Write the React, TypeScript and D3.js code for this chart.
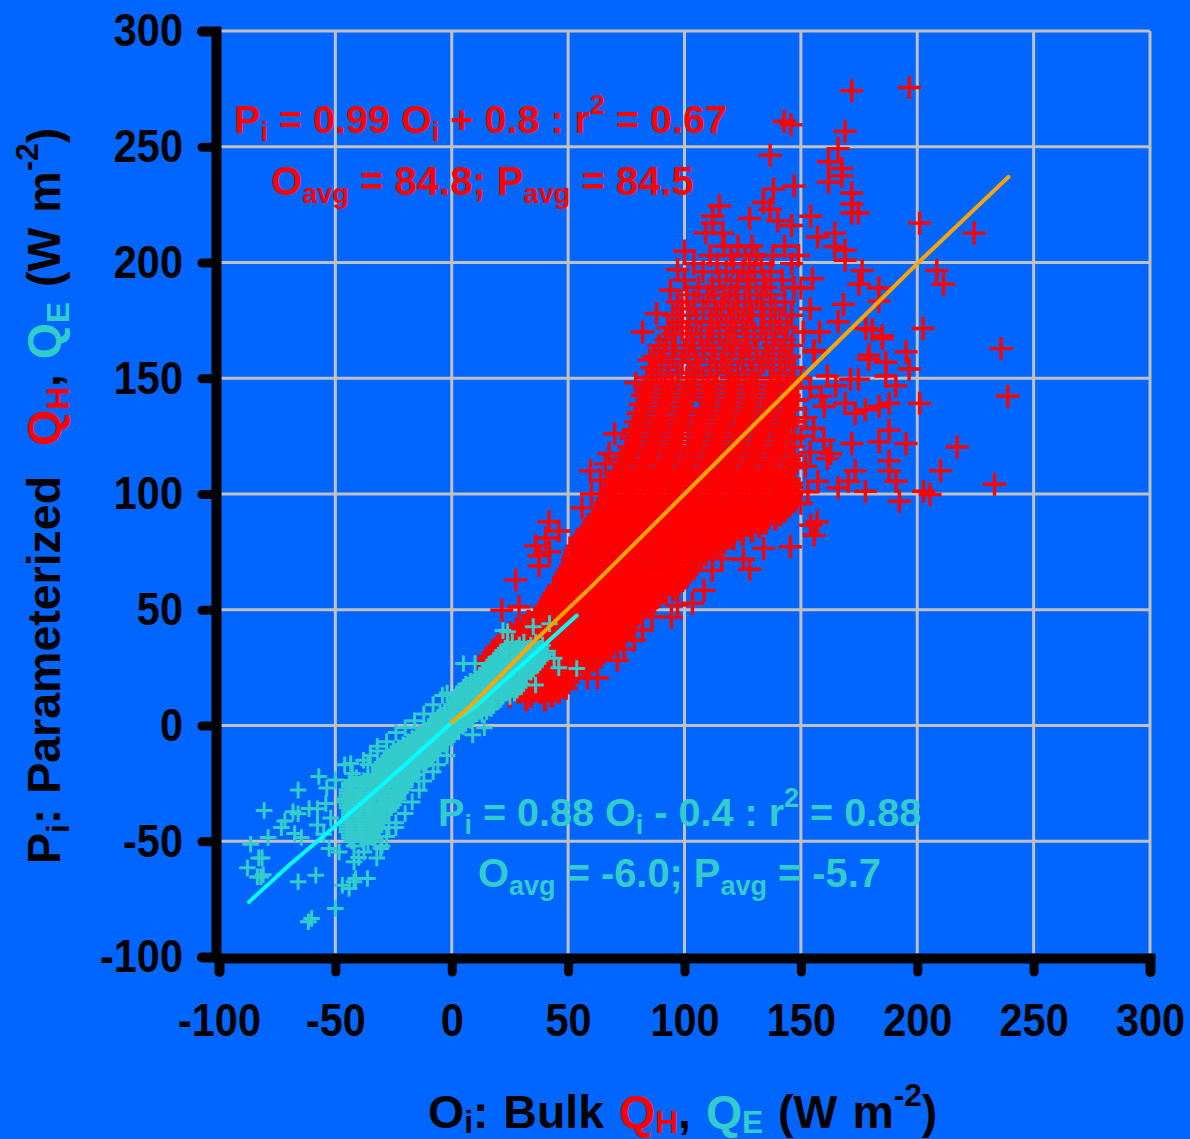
import React, { useEffect, useRef } from "react";
import * as d3 from "d3";

const xTicks = [-100, -50, 0, 50, 100, 150, 200, 250, 300];
const yTicks = [-100, -50, 0, 50, 100, 150, 200, 250, 300];

// QH: the solid mass cannot be resolved point by point, so it is read off as rows: [y, x, x, ...]
const qhRowsLow = [
  [11, 32, 40], [12.7, 25, 34, 43], [14.4, 20, 29, 38, 46], [16.1, 16, 25, 34, 42, 49], [17.8, 15, 24, 33, 41, 48],
  [19.5, 14, 22, 31, 40, 48], [21.2, 15, 24, 33, 42, 50], [22.9, 15, 23, 32, 41, 49, 54], [24.6, 16, 25, 34, 43, 51, 57],
  [26.3, 15, 24, 33, 42, 50, 59], [28, 16, 25, 34, 43, 52, 61], [29.7, 16, 24, 33, 42, 51, 60, 64], [31.4, 18, 27, 36, 45, 54, 63, 65],
  [33.1, 19, 28, 37, 46, 55, 64, 67], [34.8, 21, 29, 38, 47, 56, 65, 69], [36.5, 22, 31, 40, 49, 58, 67, 71],
  [38.2, 24, 33, 42, 51, 60, 69, 73], [39.9, 25, 34, 43, 52, 61, 70, 74], [41.6, 28, 37, 46, 55, 64, 73, 75],
  [43.3, 31, 39, 48, 57, 66, 75], [45, 33, 42, 51, 60, 69, 77], [46.7, 36, 45, 54, 63, 72, 78], [48.4, 38, 47, 56, 65, 74, 80],
  [50.1, 40, 49, 58, 67, 76, 82], [51.8, 41, 50, 59, 68, 77, 85], [53.5, 42, 51, 60, 69, 78, 87], [55.2, 43, 52, 61, 70, 79, 88],
  [56.9, 44, 53, 62, 71, 80, 89, 92], [58.6, 45, 54, 63, 72, 81, 90, 95], [60.3, 46, 55, 64, 73, 82, 91, 97],
  [62, 48, 57, 66, 75, 84, 93, 98], [63.7, 48, 57, 66, 75, 84, 93, 100], [65.4, 49, 58, 67, 76, 85, 94, 101],
  [67.1, 50, 59, 68, 77, 86, 95, 102], [68.8, 51, 60, 69, 78, 87, 96, 103], [70.5, 52, 61, 70, 79, 88, 97, 105],
  [72.2, 52, 61, 70, 79, 88, 97, 106], [73.9, 53, 62, 71, 80, 89, 98, 107, 109], [75.6, 53, 62, 71, 80, 89, 98, 107, 112],
  [77.3, 54, 63, 72, 81, 90, 99, 108, 115], [79, 55, 64, 73, 82, 91, 100, 109, 117], [80.7, 55, 64, 73, 82, 91, 100, 109, 118, 121],
  [82.4, 57, 66, 75, 84, 93, 102, 111, 120, 125], [84.1, 58, 67, 76, 85, 94, 103, 112, 121, 129],
  [85.8, 60, 69, 78, 87, 96, 105, 114, 123, 132], [87.5, 61, 70, 79, 88, 97, 106, 115, 124, 133, 135],
  [89.2, 62, 71, 80, 89, 98, 107, 116, 125, 134, 139], [90.9, 63, 72, 81, 90, 99, 108, 117, 126, 135, 141],
  [92.6, 65, 74, 83, 92, 101, 110, 119, 128, 137, 143], [94.3, 66, 75, 84, 93, 102, 111, 120, 129, 138, 144],
  [96, 66, 75, 84, 93, 102, 111, 120, 129, 138, 145], [97.7, 67, 76, 85, 94, 103, 112, 121, 130, 139, 145],
  [99.4, 68, 77, 86, 95, 104, 113, 122, 131, 140, 146], [101.1, 68, 77, 86, 95, 104, 113, 122, 131, 140, 145],
  [102.8, 69, 78, 87, 96, 105, 114, 123, 132, 141, 146], [104.5, 70, 79, 88, 97, 106, 115, 124, 133, 142, 146],
  [106.2, 70, 79, 88, 97, 106, 115, 124, 133, 142, 145], [107.9, 71, 80, 89, 98, 107, 116, 125, 134, 143],
  [109.6, 72, 81, 90, 99, 108, 117, 126, 135, 144],
];

const qhRowsMid = [
  [111.4, 74, 83, 92, 101, 110, 119, 128, 137, 146], [113.2, 76, 85, 94, 103, 112, 121, 130, 139, 147],
  [115, 73, 82, 91, 100, 109, 118, 127, 136, 145], [116.8, 75, 84, 93, 102, 111, 120, 129, 138, 146],
  [118.6, 78, 87, 96, 105, 114, 123, 132, 141], [120.4, 76, 85, 94, 103, 112, 121, 130, 139, 147],
  [122.2, 79, 88, 97, 106, 115, 124, 133, 142], [124, 77, 86, 95, 104, 113, 122, 131, 140, 147],
  [125.8, 80, 89, 98, 107, 116, 125, 134, 143], [127.6, 78, 87, 96, 105, 114, 123, 132, 141],
  [129.4, 81, 90, 99, 108, 117, 126, 135, 144], [131.2, 79, 88, 97, 106, 115, 124, 133, 142, 147],
  [133, 82, 91, 100, 109, 118, 127, 136, 145], [134.9, 80, 89, 98, 107, 116, 125, 134, 143],
  [136.8, 83, 92, 101, 110, 119, 128, 137, 146], [138.7, 81, 90, 99, 112, 121, 130, 139, 144],
  [140.6, 84, 93, 102, 111, 120, 129, 138, 147], [142.5, 82, 91, 100, 109, 118, 127, 136, 145],
  [144.4, 85, 94, 103, 112, 121, 130, 139, 143], [146.3, 83, 92, 101, 110, 119, 128, 137, 146],
  [148.2, 86, 95, 104, 113, 122, 131, 140, 144],
];

const qhRowsHigh = [
  [150.2, 84, 90, 101, 108, 120, 126, 137, 146], [152.4, 88, 97, 103, 114, 123, 129, 141], [154.6, 86, 93, 106, 111, 118, 132, 138, 147],
  [157, 90, 99, 105, 116, 125, 134, 143], [159.4, 87, 95, 102, 113, 120, 128, 136, 145], [161.8, 91, 100, 108, 117, 124, 131, 141],
  [164.2, 89, 96, 104, 112, 121, 127, 138, 146], [166.7, 92, 103, 110, 119, 126, 135, 143], [169.2, 95, 101, 107, 115, 122, 130, 139],
  [171.8, 93, 99, 112, 118, 127, 133, 144], [174.4, 97, 105, 111, 120, 125, 137, 141], [177.2, 95, 102, 114, 121, 129, 134, 146],
  [180, 99, 108, 116, 123, 128, 139], [183, 97, 104, 113, 119, 126, 133, 143], [186, 101, 110, 117, 122, 131, 137],
  [189.2, 106, 112, 120, 128, 135, 147], [192.4, 100, 115, 123, 127, 134, 142], [196, 108, 118, 125, 130, 137],
  [199.5, 104, 114, 121, 128, 133, 146], [203, 111, 120, 126, 131, 138, 149], [207, 117, 123, 129, 143],
];

const qhOutliers = [
  [171.9, 274.2], [196.6, 275.6], [142.8, 261], [145.7, 259.5], [169, 256.7], [136.8, 246.3], [166, 249.2], [161.9, 243.5],
  [167.6, 240.6], [167.6, 237.4], [161.9, 234.7], [171.9, 230], [138.2, 231.7], [147.1, 233], [171.9, 225.3], [171.9, 221.4],
  [174.7, 221.4], [201, 217], [224.4, 212.7], [154.2, 220], [115, 224.5], [112.1, 220], [112.1, 217], [109, 212.8], [116.4, 212.7],
  [133.9, 225.9], [136.8, 223], [128, 219], [140, 218], [146, 216], [164.6, 212.7], [157.2, 211], [164.6, 206.8], [169, 205.3], [169, 201],
  [176.3, 196.5], [174.9, 190.6], [183.5, 189], [183.5, 183.3], [168.3, 181.9], [166, 174.4], [208.4, 196.5], [211.3, 190.6],
  [202.5, 171.5], [177.9, 171.5], [180.7, 170.8], [185, 168.3], [195.2, 161.4], [236, 162.8], [179.3, 160], [155.7, 162],
  [238.9, 142.2], [201, 139.2], [217.1, 120.3], [210, 110], [233.2, 104.2], [202.7, 101.2], [205.5, 99.8], [192.3, 96.9],
  [177.7, 101.2], [195.2, 121.8], [187.9, 127.6], [183.6, 122.5], [171.9, 121.8], [187.9, 114.3], [187.9, 110], [190.9, 105.5],
  [173.3, 110], [170.4, 105.5], [166, 102.7], [157.3, 105.5], [187.9, 139.2], [183.6, 137.8], [177.7, 136.4], [173.3, 134.9],
  [169, 139.2], [160.1, 137.8], [158.7, 142.2], [148.5, 140.6], [196.5, 154], [186.5, 156.9], [179, 158.2], [185, 167.2],
  [174.7, 149.6], [171.3, 149.6], [190.8, 146.7], [186.5, 151], [161.4, 151], [165, 146.7], [155.7, 161.4], [155.7, 82.2],
  [157, 88], [154.2, 86.5], [145.5, 77.2], [134, 76.5], [128, 67.5], [125.3, 71.8], [161.4, 115.3], [162.8, 117.5], [159.8, 123.2],
  [155.5, 128.3], [152, 112], [154, 118], [150, 96], [153, 101], [150, 125], [152, 133], [150, 150], [154, 146], [151, 170], [154, 180],
  [150, 189], [155, 193], [158, 170], [59.6, 110], [27.5, 62.9], [41.8, 88], [40.4, 81], [36, 77.6], [37.5, 73.3], [37.5, 69],
  [42, 75], [46, 84], [67.6, 117.5], [60, 100], [56, 94], [64, 106], [94.4, 46.8], [103.4, 52.8], [108.4, 58.4], [21.5, 49.8], [28.9, 51.3],
  [71.2, 28.2], [62.6, 20.6], [58.3, 20.6], [48.1, 18.1], [78.3, 36.8], [81.9, 41.2], [74, 33], [86, 47], [97, 52], [112, 67], [116, 72],
  [70, 126], [66, 113], [79, 148], [85, 158], [82, 170], [88, 178], [94, 188], [97, 197], [100, 205],
];

// QE: same treatment for the solid part
const qeRows = [
  [36, 26, 31, 36], [34.7, 24, 29, 34, 39], [33.4, 23, 28, 33, 38], [32.1, 22, 27, 32, 37, 41], [30.8, 21, 26, 31, 36, 40],
  [29.5, 19, 24, 29, 34, 39], [28.2, 18, 23, 28, 33, 38], [26.9, 17, 22, 27, 32, 37], [25.6, 16, 21, 26, 31, 36], [24.3, 15, 20, 25, 30, 35],
  [23, 14, 19, 24, 29, 34], [21.7, 12, 17, 22, 27, 32], [20.4, 10, 15, 20, 25, 31], [19.1, 8, 13, 18, 23, 29], [17.8, 6, 11, 16, 21, 26, 30],
  [16.5, 5, 10, 15, 20, 25, 29], [15.2, 4, 9, 14, 19, 24, 28], [13.9, 3, 8, 13, 18, 23, 27], [12.6, 2, 7, 12, 17, 22, 25], [11.3, 1, 6, 11, 16, 21],
  [10, 1, 6, 11, 16, 19], [8.7, 0, 5, 10, 15, 18], [7.4, -1, 4, 9, 14, 17], [6.1, -3, 2, 7, 12, 15], [4.8, -5, 0, 5, 10, 13], [3.5, -6, -1, 4, 9],
  [2.2, -7, -2, 3, 8], [0.9, -9, -4, 1, 6], [-0.4, -10, -5, 0, 5], [-1.7, -12, -7, -2, 3], [-3, -14, -9, -4, 1], [-4.3, -15, -10, -5, 0],
  [-5.6, -17, -12, -7, -2, 0], [-6.9, -19, -14, -9, -4, -2], [-8.2, -21, -16, -11, -6, -3], [-9.5, -23, -18, -13, -8, -5],
  [-10.8, -25, -20, -15, -10, -7], [-12.1, -26, -21, -16, -11, -8], [-13.4, -27, -22, -17, -12, -9], [-14.7, -29, -24, -19, -14, -10],
  [-16, -30, -25, -20, -15, -11], [-17.3, -31, -26, -21, -16, -12], [-18.6, -31, -26, -21, -16, -14], [-19.9, -31, -26, -21, -17],
  [-21.2, -34, -29, -24, -19, -15], [-22.5, -41, -36, -31, -26, -21, -17], [-23.8, -43, -38, -33, -28, -23, -19],
  [-25.1, -44, -39, -34, -29, -24, -20], [-26.4, -44, -39, -34, -29, -24, -20], [-27.7, -45, -40, -35, -30, -25, -21],
  [-29, -45, -40, -35, -30, -25, -22], [-30.3, -45, -40, -35, -30, -25, -23], [-31.6, -46, -41, -36, -31, -26, -23],
  [-32.9, -46, -41, -36, -31, -26, -24], [-34.2, -45, -40, -35, -30, -25], [-35.5, -45, -40, -35, -30, -26], [-36.8, -44, -39, -34, -29, -27],
  [-38.1, -44, -39, -34, -29], [-39.4, -44, -39, -34, -30], [-40.7, -44, -39, -34, -30], [-42, -45, -40, -35, -31], [-43.3, -45, -40, -35, -32],
  [-44.6, -45, -40, -35, -32], [-45.9, -45, -40, -35, -33], [-47.2, -44, -39, -34], [-48.5, -44, -39, -34], [-49.8, -43, -38, -33],
];

const qeOutliers = [
  [-80.6, -36.7], [-66, -27.9], [-57.1, -22], [-50, -23.5], [-68.2, -37.3], [-66, -38.1], [-73.2, -44.1], [-71.7, -41.2], [-67.5, -46.7],
  [-64.6, -48.4], [-78.9, -48.4], [-86.4, -51.3], [-82.9, -57.2], [-81.5, -57.2], [-87.8, -61.5], [-82, -65.4], [-83.5, -65.4], [-81, -64.5],
  [-66, -67.5], [-58.4, -64.7], [-50, -79], [-60.2, -83.4], [-61.6, -84.8], [-44.1, -70.4], [-47, -69], [-41.3, -66.1], [-36.2, -66.1],
  [-42, -67.5], [-43.4, -16.4], [-42.7, -20.7], [-37.9, -15], [-30.5, -53.1], [-32.2, -57.2], [-37.7, -54.6], [-42, -58.9], [-48.4, -54.6],
  [-52.7, -53.1], [-24, -44.1], [-27, -44.1], [-57.7, -43], [-61.3, -35.9], [-54.1, -33.7], [-57.7, -36], [-52, -40], [-55, -47],
  [-40, -57], [-42, -52], [-36, -51], [-53.7, -27], [-46, -17], [5, 26.8], [10, 26.8], [22, 41], [24, 40.5], [35, 42.7], [42, 44], [53.7, 24.6],
  [36, 17.5], [39, 30], [44, 29], [46, 25], [-2, 14], [14, -1], [9, -4], [-12, -16], [-9, -12],
  [-32, -11], [-35, -13], [-36, -17], [-32, -9], [-28, -7], [-24, -3], [-20, -1], [-16, 2], [-12, 5], [-8, 9], [-4, 13],
  [-2, -13], [-6, -17], [-8, -20], [-12, -24], [-14, -28], [-17, -33], [-20, -38], [-24, -42], [-28, -48], [-30, -52],
];

const qhFit = [[0, 1.5], [7, 7.3], [21, 21.6], [35, 36], [60, 60], [100, 100], [150, 150], [200, 199.5], [239.2, 237]];
const qeFit = [[-87.1, -76.2], [-70, -60.5], [-51.3, -44.5], [-21.9, -18.6], [-0.4, 0.9], [10, 8], [21, 18], [35.3, 30.8], [53.7, 47.5]];

const BLUE = "#0066ff";
const RED = "#ff0000";
const TEAL = "#33cccc";
const FONT = "'Liberation Sans', Arial, sans-serif";

type Seg = { t: string; fill?: string; k?: "sub" | "sup" };

const qhEqn: Seg[] = [{ t: "P" }, { t: "i", k: "sub" }, { t: " = 0.99 O" }, { t: "i", k: "sub" }, { t: " + 0.8 : r" }, { t: "2", k: "sup" }, { t: " = 0.67" }];
const qhAvg: Seg[] = [{ t: "O" }, { t: "avg", k: "sub" }, { t: " = 84.8; P" }, { t: "avg", k: "sub" }, { t: " = 84.5" }];
const qeEqn: Seg[] = [{ t: "P" }, { t: "i", k: "sub" }, { t: " = 0.88 O" }, { t: "i", k: "sub" }, { t: " - 0.4 : r" }, { t: "2", k: "sup" }, { t: " = 0.88" }];
const qeAvg: Seg[] = [{ t: "O" }, { t: "avg", k: "sub" }, { t: " = -6.0; P" }, { t: "avg", k: "sub" }, { t: " = -5.7" }];
const xTitle: Seg[] = [{ t: "O" }, { t: "i", k: "sub" }, { t: ": Bulk " }, { t: "Q", fill: RED }, { t: "H", k: "sub", fill: RED }, { t: ", " }, { t: "Q", fill: TEAL }, { t: "E", k: "sub", fill: TEAL }, { t: " (W m" }, { t: "-2", k: "sup" }, { t: ")" }];
const yTitle: Seg[] = [{ t: "P" }, { t: "i", k: "sub" }, { t: ": Parameterized  " }, { t: "Q", fill: RED }, { t: "H", k: "sub", fill: RED }, { t: ", " }, { t: "Q", fill: TEAL }, { t: "E", k: "sub", fill: TEAL }, { t: " (W m" }, { t: "-2", k: "sup" }, { t: ")" }];

const unrow = (rows: number[][]) => rows.flatMap(([y, ...xs]) => xs.map((x) => [x, y]));

export default function App() {
  const ref = useRef<SVGSVGElement>(null);

  useEffect(() => {
    const width = 1190;
    const height = 1139;
    const x = d3.scaleLinear([-100, 300], [219, 1150]);
    const y = d3.scaleLinear([-100, 300], [957, 31]);

    const svg = d3.select(ref.current);
    svg.selectAll("*").remove();
    svg.attr("width", width).attr("height", height).attr("viewBox", [0, 0, width, height]);
    svg.append("rect").attr("width", width).attr("height", height).attr("fill", BLUE);

    // grid
    const grid = svg.append("g").attr("stroke", "#c0c0c0").attr("stroke-width", 3);
    grid.selectAll(".v").data(xTicks.slice(1)).join("line").attr("class", "v")
      .attr("x1", (d) => x(d)).attr("x2", (d) => x(d)).attr("y1", y(300)).attr("y2", y(-100));
    grid.selectAll(".h").data(yTicks.slice(1)).join("line").attr("class", "h")
      .attr("x1", x(-100)).attr("x2", x(300)).attr("y1", (d) => y(d)).attr("y2", (d) => y(d));

    // scatter
    const plus = (g, pts, arm, sw, color) =>
      g.append("g").attr("stroke", color).attr("stroke-width", sw).attr("fill", "none")
        .selectAll("path").data(pts).join("path")
        .attr("d", ([a, b]) => `M${x(a) - arm},${y(b)}h${2 * arm}M${x(a)},${y(b) - arm}v${2 * arm}`);
    plus(svg, unrow(qhRowsLow), 11.5, 4.2, RED);
    plus(svg, unrow(qhRowsMid), 11.5, 3.7, RED);
    plus(svg, [...unrow(qhRowsHigh), ...qhOutliers], 11.5, 3.4, RED);
    plus(svg, [...unrow(qeRows), ...qeOutliers], 8.3, 3, TEAL);

    const line = d3.line().x((d) => x(d[0])).y((d) => y(d[1]));
    svg.append("path").datum(qeFit).attr("d", line).attr("fill", "none").attr("stroke", "#00ffff").attr("stroke-width", 4).attr("stroke-linecap", "round");
    svg.append("path").datum(qhFit).attr("d", line).attr("fill", "none").attr("stroke", "#ffa500").attr("stroke-width", 4).attr("stroke-linecap", "round");

    // axes
    const styleAxis = (g) => {
      g.selectAll(".domain").attr("stroke", "#000").attr("stroke-width", 10).attr("stroke-linecap", "round");
      g.selectAll(".tick line").attr("stroke", "#000").attr("stroke-width", 9).attr("stroke-linecap", "round");
      g.selectAll(".tick text").attr("fill", "#000").attr("font-family", FONT).attr("font-weight", 700).attr("font-size", 41.5)
        .attr("transform", "scale(1,1.12)");
    };
    svg.append("g").attr("transform", `translate(216,0)`)
      .call(d3.axisLeft(y).tickValues(yTicks).tickFormat(String).tickSize(14).tickPadding(19))
      .call(styleAxis);
    svg.append("g").attr("transform", `translate(0,958)`)
      .call(d3.axisBottom(x).tickValues(xTicks).tickFormat(String).tickSize(14).tickPadding(28))
      .call(styleAxis)
      .call((g) => g.selectAll(".tick text").attr("y", 69.6).attr("dy", 0));

    // rich text with sub and superscripts
    const rich = (segs: Seg[], tx, ty, size, fill, rotate = 0, subShift = 0.2, spacing = 0) => {
      const t = svg.append("text")
        .attr("transform", `translate(${tx},${ty}) rotate(${rotate})`)
        .attr("font-family", FONT).attr("font-weight", 700).attr("font-size", size)
        .attr("fill", fill).attr("word-spacing", spacing).style("white-space", "pre");
      let prev = 0;
      segs.forEach((s) => {
        const shift = s.k === "sub" ? size * subShift : s.k === "sup" ? -size * 0.47 : 0;
        t.append("tspan").attr("dy", shift - prev).attr("font-size", s.k ? size * 0.68 : size)
          .attr("fill", s.fill || fill).text(s.t);
        prev = shift;
      });
    };
    rich(qhEqn, 234, 133, 39.6, RED);
    rich(qhAvg, 271, 195, 40, RED);
    rich(qeEqn, 438, 826, 39.6, TEAL);
    rich(qeAvg, 478, 887, 39.8, TEAL);
    rich(xTitle, 428, 1128, 46.5, "#000", 0, 0.11, 2);
    rich(yTitle, 60, 864, 46.5, "#000", -90, 0.2, 2);
  }, []);

  return <svg ref={ref} style={{ position: "absolute", left: 0, top: 0, display: "block" }}></svg>;
}
